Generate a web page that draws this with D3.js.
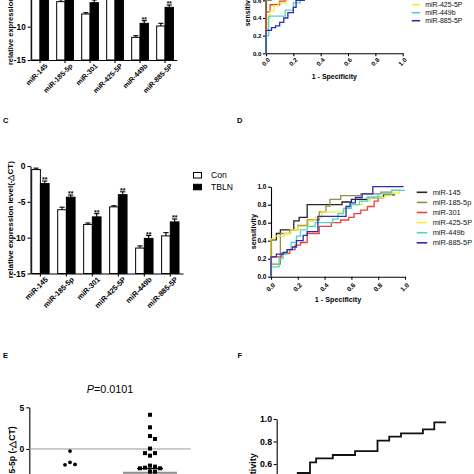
<!DOCTYPE html>
<html><head><meta charset="utf-8">
<script src="https://cdn.jsdelivr.net/npm/d3@7"></script>
<style>
html,body{margin:0;padding:0;background:#fff;overflow:hidden}
svg{display:block}
</style></head><body>
<svg id="c" width="474" height="474"></svg>
<script>
// ---------------- DATA ----------------
const mirs = ["miR-145","miR-185-5p","miR-301","miR-425-5P","miR-449b","miR-885-5P"];
const barGroups = ["Con","TBLN"];
const barTicks = [0,-5,-10,-15];
// Panel A (top, cropped)
const conA     = [-0.5,-6.25,-8.1,-5.5,-11.6,-9.9];
const conAErr  = [0.2,0.3,0.2,0.2,0.25,0.4];
const tblnA    = [-2.0,-5.0,-6.4,-4.0,-9.5,-7.1];
const tblnAErr = [0.3,0.3,0.4,0.3,0.4,0.35];
// Panel C
const conC     = [-0.5,-6.1,-8.15,-5.7,-11.45,-9.75];
const conCErr  = [0.2,0.35,0.2,0.15,0.3,0.45];
const tblnC    = [-2.45,-4.35,-7.1,-4.0,-10.1,-7.8];
const tblnCErr = [0.35,0.3,0.45,0.4,0.4,0.4];

const rocTicks = [0,0.2,0.4,0.6,0.8,1.0];
const rocColors = ["#262626","#9b8a4e","#e4443c","#f2ee3c","#4fd6c4","#2b2bb5"];
// Panel B ROC curves [1-specificity, sensitivity]
const rocB145 = [[0,0],[0,0.62],[0.05,0.7],[0.1,0.78],[0.2,0.86],[0.35,0.92],[0.6,0.96],[0.9,1.0],[1,1]];
const rocB185 = [[0,0],[0,0.6],[0.04,0.66],[0.12,0.75],[0.25,0.85],[0.45,0.93],[0.8,1.0],[1,1]];
const rocB301 = [[0,0],[0,0.47],[0.03,0.55],[0.1,0.59],[0.14,0.66],[0.2,0.75],[0.3,0.85],[0.5,0.93],[0.8,1.0],[1,1]];
const rocB425 = [[0,0],[0,0.26],[0.015,0.4],[0.03,0.48],[0.06,0.54],[0.09,0.57],[0.15,0.62],[0.22,0.7],[0.35,0.82],[0.55,0.92],[0.8,1.0],[1,1]];
const rocB449 = [[0,0],[0,0.2],[0.02,0.42],[0.14,0.49],[0.2,0.57],[0.25,0.65],[0.35,0.75],[0.5,0.85],[0.7,0.95],[1.0,1.0]];
const rocB885 = [[0,0],[0,0.26],[0.04,0.29],[0.07,0.31],[0.1,0.35],[0.13,0.4],[0.16,0.46],[0.2,0.52],[0.22,0.6],[0.28,0.7],[0.4,0.8],[0.6,0.9],[0.8,1.0],[1,1]];
// Panel D ROC curves
const rocD145 = [[0,0],[0,0.41],[0.04,0.48],[0.07,0.52],[0.17,0.62],[0.21,0.66],[0.27,0.8],[0.53,0.83],[0.6,0.86],[0.72,0.88],[0.84,0.91],[0.925,0.91]];
const rocD185 = [[0,0],[0,0.14],[0.07,0.48],[0.14,0.52],[0.2,0.57],[0.27,0.63],[0.36,0.72],[0.41,0.785],[0.44,0.86],[0.52,0.9],[0.67,0.92],[0.82,0.94],[0.9,0.96],[0.97,0.96]];
const rocD301 = [[0,0],[0,0.22],[0.08,0.26],[0.14,0.3],[0.18,0.35],[0.22,0.38],[0.27,0.48],[0.36,0.56],[0.45,0.6],[0.52,0.63],[0.58,0.66],[0.62,0.7],[0.67,0.74],[0.72,0.78],[0.77,0.84],[0.8,0.88],[0.84,0.88]];
const rocD425 = [[0,0],[0,0.42],[0.03,0.45],[0.1,0.48],[0.15,0.52],[0.2,0.56],[0.28,0.62],[0.33,0.66],[0.38,0.72],[0.55,0.76],[0.6,0.8],[0.68,0.84],[0.74,0.88],[0.85,0.9],[0.9,0.93],[0.96,0.96]];
const rocD449 = [[0,0],[0,0.11],[0.06,0.2],[0.09,0.25],[0.12,0.3],[0.15,0.38],[0.19,0.45],[0.22,0.52],[0.27,0.56],[0.33,0.6],[0.46,0.64],[0.5,0.7],[0.54,0.76],[0.6,0.8],[0.66,0.84],[0.72,0.88],[0.8,0.92],[0.9,0.96],[1.0,0.96]];
const rocD885 = [[0,0],[0,0.22],[0.04,0.25],[0.09,0.27],[0.12,0.3],[0.16,0.33],[0.19,0.4],[0.24,0.46],[0.27,0.5],[0.35,0.67],[0.56,0.78],[0.59,0.82],[0.63,0.88],[0.68,0.92],[0.76,1.0],[0.99,1.0]];
// Panel E scatter
const eGroups = ["Con","TBLN"];
const eConVals  = [-0.25,-1.6,-1.85,-1.9];
const eTblnVals = [4.1,2.6,1.55,1.2,0.05,-0.5,-0.5,-0.8,-2.0,-2.12,-2.24,-2.32,-2.32,-2.72,-2.72];
const eTblnMean = -2.85, eTblnSem = 0.5;
const eTicks = [5,0,-5];
const pValue = "0.0101";
// Panel F ROC
const rocF = [[0,0],[0,0.2],[0.03,0.3],[0.06,0.38],[0.09,0.45],[0.12,0.52],[0.19,0.615],[0.225,0.65],[0.32,0.68],[0.447,0.715],[0.575,0.807],[0.642,0.843],[0.709,0.873],[0.834,0.908],[0.899,0.97],[0.966,0.97]];

// ---------------- DRAW ----------------
const FONT = '"Liberation Sans", Arial, Helvetica, sans-serif';
const svg = d3.select("#c").attr("font-family", FONT);

function styleAxis(sel, fs, bold=true) {
  sel.attr("font-family", FONT).attr("font-size", fs).attr("font-weight", bold ? "bold" : "normal");
  sel.select(".domain").attr("stroke","#000").attr("stroke-width",1.1);
  sel.selectAll(".tick line").attr("stroke","#000").attr("stroke-width",1.1);
  sel.selectAll(".tick text").attr("fill","#000");
}

function barPanel(cfg) {
  const g = svg.append("g");
  const x = d3.scaleBand().domain(mirs).range([cfg.x0, cfg.x1])
    .paddingInner(0.33).paddingOuter(cfg.po).align(0.23);
  const y = d3.scaleLinear().domain([-15,0]).range([cfg.yb, cfg.yt]);
  const sub = d3.scaleBand().domain(barGroups).range([0, x.bandwidth()]);
  const vals = [cfg.con, cfg.tbln], errs = [cfg.conErr, cfg.tblnErr];

  const ya = g.append("g").attr("transform", `translate(${cfg.x0},0)`)
    .call(d3.axisLeft(y).tickValues(barTicks).tickFormat(d => String(d)).tickSize(3).tickPadding(2).tickSizeOuter(0));
  styleAxis(ya, cfg.tfs);
  const xa = g.append("g").attr("transform", `translate(0,${y(-15)})`)
    .call(d3.axisBottom(x).tickSize(3).tickSizeOuter(0));
  styleAxis(xa, cfg.xfs);
  xa.selectAll(".tick text").attr("x",0).attr("y",0).attr("dy",0)
    .attr("text-anchor","end").attr("transform","translate(8,6.5) rotate(-45)");

  barGroups.forEach((grp, gi) => {
    const data = mirs.map((m,i) => ({m, v: vals[gi][i], e: errs[gi][i]}));
    const cx = d => x(d.m) + sub(grp) + sub.bandwidth()/2;
    const gg = g.append("g");
    gg.selectAll("rect").data(data).join("rect")
      .attr("x", d => x(d.m) + sub(grp)).attr("width", sub.bandwidth())
      .attr("y", d => y(d.v)).attr("height", d => y(-15) - y(d.v))
      .attr("fill", gi ? "#000" : "#fff").attr("stroke","#000").attr("stroke-width",1);
    gg.selectAll("line.v").data(data).join("line").attr("class","v")
      .attr("x1", cx).attr("x2", cx).attr("y1", d => y(d.v)).attr("y2", d => y(d.v + d.e))
      .attr("stroke","#000").attr("stroke-width",1.1);
    gg.selectAll("line.c").data(data).join("line").attr("class","c")
      .attr("x1", d => cx(d) - sub.bandwidth()*0.3).attr("x2", d => cx(d) + sub.bandwidth()*0.3)
      .attr("y1", d => y(d.v + d.e)).attr("y2", d => y(d.v + d.e))
      .attr("stroke","#000").attr("stroke-width",1.1);
    if (gi === 1) {
      gg.selectAll("text").data(data).join("text")
        .attr("x", cx).attr("y", d => y(d.v + d.e) + 1)
        .attr("text-anchor","middle").attr("font-size", cfg.sfs).attr("font-weight","bold").text("**");
    }
  });

  g.append("text").attr("transform", `translate(${cfg.labX},${(cfg.yb+cfg.yt)/2}) rotate(-90)`)
    .attr("text-anchor","middle").attr("font-size", cfg.labFs).attr("font-weight","bold")
    .text("relative expression level(-△CT)");

  if (cfg.legend) {
    const lg = g.append("g");
    barGroups.forEach((grp, gi) => {
      lg.append("rect").attr("x", cfg.legend.x).attr("y", cfg.legend.y + gi*cfg.legend.dy - 5)
        .attr("width", 8).attr("height", 5.5)
        .attr("fill", gi ? "#000" : "#fff").attr("stroke","#000").attr("stroke-width",1);
      lg.append("text").attr("x", cfg.legend.x + 17.5).attr("y", cfg.legend.y + gi*cfg.legend.dy + 0.8)
        .attr("font-size", 8.6).text(grp);
    });
  }
}

function rocPanel(cfg) {
  const g = svg.append("g");
  const x = d3.scaleLinear().domain([0,1]).range([cfg.x0, cfg.x1]);
  const y = d3.scaleLinear().domain([0,1]).range([cfg.y0, cfg.y1]);
  const ya = g.append("g").attr("transform", `translate(${cfg.x0},0)`)
    .call(d3.axisLeft(y).tickValues(rocTicks).tickFormat(d3.format(".1f")).tickSize(3).tickPadding(1.5).tickSizeOuter(0));
  styleAxis(ya, cfg.tfs);
  const xa = g.append("g").attr("transform", `translate(0,${cfg.y0})`)
    .call(d3.axisBottom(x).tickValues(rocTicks).tickFormat(d3.format(".1f")).tickSize(3).tickSizeOuter(0));
  styleAxis(xa, cfg.tfs);
  xa.selectAll(".tick text").attr("x",0).attr("y",0).attr("dy",0)
    .attr("text-anchor","end").attr("transform", `translate(4,${cfg.xlOff}) rotate(-45)`);

  const line = d3.line().x(d => x(d[0])).y(d => y(d[1])).curve(d3.curveStepAfter);
  cfg.series.forEach((s, i) => {
    g.append("path").attr("d", line(s)).attr("fill","none")
      .attr("stroke", cfg.colors[i]).attr("stroke-width", cfg.lw);
  });

  g.append("text").attr("x", (cfg.x0+cfg.x1)/2).attr("y", cfg.xlabY)
    .attr("text-anchor","middle").attr("font-size", cfg.afs).attr("font-weight","bold").text("1 - Specificity");
  g.append("text").attr("transform", `translate(${cfg.ylabX},${(cfg.y0+cfg.y1)/2}) rotate(-90)`)
    .attr("text-anchor","middle").attr("font-size", cfg.afs).attr("font-weight","bold").text("sensitivity");

  if (cfg.legend) {
    const L = cfg.legend;
    mirs.forEach((m, i) => {
      const ly = L.y + i*L.dy;
      g.append("line").attr("x1", L.x).attr("x2", L.x + L.w).attr("y1", ly).attr("y2", ly)
        .attr("stroke", cfg.colors[i]).attr("stroke-width", 1.6);
      g.append("text").attr("x", L.x + L.w + L.gap).attr("y", ly + 2.5)
        .attr("font-size", L.fs).attr("fill","#111").text(m);
    });
  }
}

// Panel A
barPanel({con:conA, conErr:conAErr, tbln:tblnA, tblnErr:tblnAErr,
  x0:30.7, x1:176.7, po:0.085, yb:60, yt:-40, labX:12.5, labFs:7.5, tfs:8.2, xfs:7, sfs:6.5});
// Panel C
barPanel({con:conC, conErr:conCErr, tbln:tblnC, tblnErr:tblnCErr,
  x0:30.5, x1:183, po:0.1, yb:273.5, yt:166, labX:12.5, labFs:8, tfs:8.5, xfs:7.4, sfs:7,
  legend:{x:193.5, y:177.5, dy:11.8}});

// Panel B
rocPanel({x0:266, x1:402.7, y0:53.3, y1:-35, series:[rocB145,rocB185,rocB301,rocB425,rocB449,rocB885],
  colors:rocColors, lw:1.3, tfs:6.2, afs:7, xlOff:7, xlabY:78.5, ylabX:250,
  legend:{x:411.7, y:12.7 - 4*8, dy:8, w:8.5, gap:5, fs:7}});
// Panel D
rocPanel({x0:271, x1:405, y0:276.7, y1:186.7, series:[rocD145,rocD185,rocD301,rocD425,rocD449,rocD885],
  colors:rocColors, lw:1.3, tfs:6.5, afs:7.2, xlOff:9, xlabY:301.5, ylabX:255.5,
  legend:{x:416.7, y:192.3, dy:10.1, w:10.5, gap:5.5, fs:7.4}});
// Panel F
rocPanel({x0:276.7, x1:452, y0:531.5, y1:419, series:[rocF], colors:["#111"], lw:1.8,
  tfs:8.8, afs:9, xlOff:10, xlabY:560, ylabX:255.5});

// Panel E
(function(){
  const g = svg.append("g");
  const y = d3.scaleLinear().domain([-10,5]).range([532.3, 407.3]);
  const x = d3.scalePoint().domain(eGroups).range([29.3, 190.7]).padding(0.509);
  const ya = g.append("g").attr("transform","translate(29.3,0)")
    .call(d3.axisLeft(y).tickValues(eTicks).tickFormat(d => String(d)).tickSize(3).tickPadding(2).tickSizeOuter(0));
  styleAxis(ya, 8.5);
  g.append("line").attr("x1", 29.3).attr("x2", 190.7).attr("y1", y(0)).attr("y2", y(0))
    .attr("stroke","#9a9a9a").attr("stroke-width",1);

  function swarm(vals, cx) {
    const placed = [];
    vals.map(v => v).sort((a,b) => b - a).forEach(v => {
      const py = y(v);
      for (let k = 0; k < 40; k++) {
        const px = cx + (k === 0 ? 0 : (k % 2 ? 1 : -1) * Math.ceil(k/2) * 5);
        if (placed.every(p => Math.hypot(p.x - px, p.y - py) >= 4.8)) { placed.push({x:px, y:py}); break; }
      }
    });
    return placed;
  }
  // mean / SEM for TBLN
  const cT = x(eGroups[1]);
  g.append("line").attr("x1", cT).attr("x2", cT).attr("y1", y(eTblnMean - eTblnSem)).attr("y2", y(eTblnMean + eTblnSem))
    .attr("stroke","#000").attr("stroke-width",1.2);
  g.append("line").attr("x1", cT - 13).attr("x2", cT + 13).attr("y1", y(eTblnMean + eTblnSem)).attr("y2", y(eTblnMean + eTblnSem))
    .attr("stroke","#000").attr("stroke-width",1.4);
  g.append("line").attr("x1", cT - 27).attr("x2", cT + 27).attr("y1", y(eTblnMean)).attr("y2", y(eTblnMean))
    .attr("stroke","#8c8c8c").attr("stroke-width",2);

  g.selectAll("circle").data(swarm(eConVals, x(eGroups[0]))).join("circle")
    .attr("cx", d => d.x).attr("cy", d => d.y).attr("r", 1.9).attr("fill","#000");
  g.selectAll("rect.pt").data(swarm(eTblnVals, cT)).join("rect").attr("class","pt")
    .attr("x", d => d.x - 2).attr("y", d => d.y - 2).attr("width", 4).attr("height", 4).attr("fill","#000");

  const t = g.append("text").attr("x", 110).attr("y", 392.5).attr("text-anchor","middle").attr("font-size", 10.8);
  t.append("tspan").attr("font-style","italic").text("P");
  t.append("tspan").text("=" + pValue);

  g.append("text").attr("transform", `translate(15,${y(2.7)}) rotate(-90)`)
    .attr("text-anchor","end").attr("font-size", 8.6).attr("font-weight","bold").text("miR-185-5p (-△CT)");
})();

// Panel letters
[["C",3,122.5],["D",237,122.5],["E",3,357.5],["F",237.5,357.5]].forEach(([l,px,py]) => {
  svg.append("text").attr("x", px).attr("y", py).attr("font-size", 7.5).attr("font-weight","bold").text(l);
});
</script>
</body></html>
